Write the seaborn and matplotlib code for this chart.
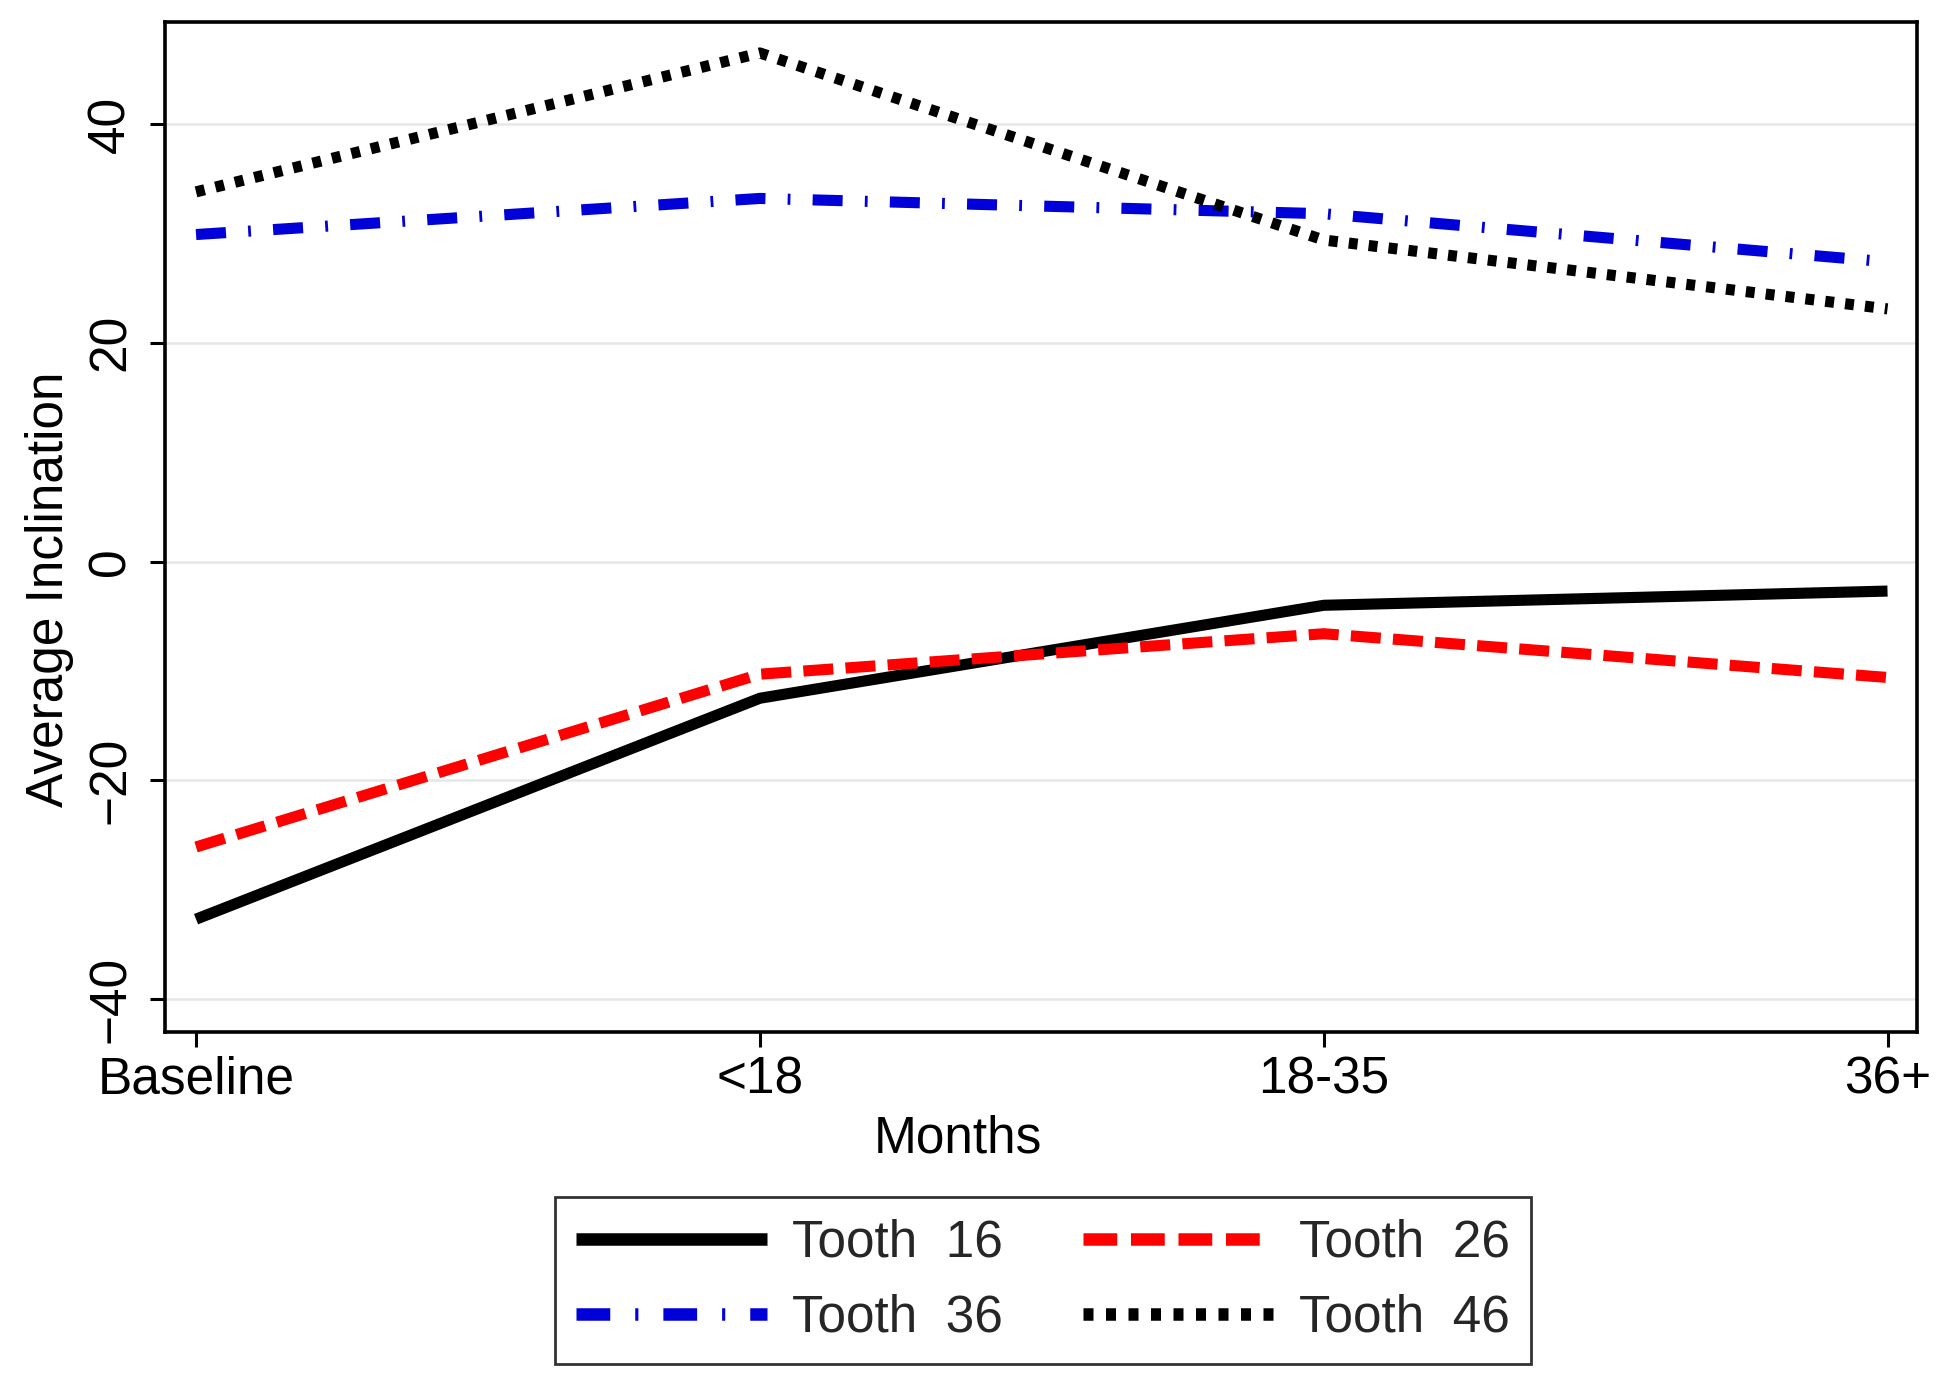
import matplotlib
matplotlib.use("Agg")
import matplotlib.pyplot as plt
import seaborn as sns
import pandas as pd

months = ["Baseline", "<18", "18-35", "36+"]
tooth16 = [-32.7, -12.5, -4.0, -2.7]
tooth26 = [-26.1, -10.3, -6.6, -10.6]
tooth36 = [29.9, 33.2, 31.8, 27.4]
tooth46 = [33.8, 46.5, 29.4, 23.1]
series_names = ["Tooth  16", "Tooth  26", "Tooth  36", "Tooth  46"]
y_ticks = [-40, -20, 0, 20, 40]

sns.set_theme(style="white")
plt.rcParams["font.family"] = ["Liberation Sans", "DejaVu Sans"]
plt.rcParams["lines.dash_capstyle"] = "butt"
plt.rcParams["lines.solid_capstyle"] = "butt"

rows = []
for name, vals in zip(series_names, [tooth16, tooth26, tooth36, tooth46]):
    for i, (m, v) in enumerate(zip(months, vals)):
        rows.append({"pos": i, "month": m, "value": v, "tooth": name})
df = pd.DataFrame(rows)

palette = {"Tooth  16": "#000000", "Tooth  26": "#ff0000",
           "Tooth  36": "#0000d8", "Tooth  46": "#000000"}
dashes = {"Tooth  16": "", "Tooth  26": (2.7, 1.1),
          "Tooth  36": (2.7, 2.0, 0.25, 2.0), "Tooth  46": (0.8, 1.0)}

fig = plt.figure(figsize=(19.46, 13.8), dpi=100)
ax = fig.add_axes([0.0848, 0.2523, 0.9005, 0.7315])

sns.lineplot(data=df, x="pos", y="value", hue="tooth", style="tooth",
             palette=palette, dashes=dashes, linewidth=8, ax=ax,
             hue_order=series_names, style_order=series_names, legend=True)

ax.set_xlim(-0.055, 3.053)
ax.set_ylim(-43, 49.3)
ax.set_xticks(range(len(months)))
ax.set_xticklabels(months)
ax.set_yticks(y_ticks)
ax.set_yticklabels([str(t).replace("-", "\u2212") for t in y_ticks],
                   rotation=90, va="center")
ax.yaxis.grid(True, color="#e6e6e6", linewidth=1.8)
ax.xaxis.grid(False)
ax.set_axisbelow(True)
for s in ax.spines.values():
    s.set_color("black")
    s.set_linewidth(2.6)
ax.tick_params(axis="x", which="major", direction="out", length=11,
               width=2.2, color="black", labelsize=37, labelcolor="black",
               bottom=True, pad=6)
ax.tick_params(axis="y", which="major", direction="out", length=11,
               width=2.2, color="black", labelsize=37, labelcolor="black",
               left=True, pad=10)
ax.set_xlabel("Months", fontsize=37, color="black")
ax.set_ylabel("Average Inclination", fontsize=37, color="black")
ax.xaxis.set_label_coords(0.4525, -0.082)
ax.yaxis.set_label_coords(-0.052, 0.438)

handles, labels = ax.get_legend_handles_labels()
ax.get_legend().remove()
for h in handles:
    h.set_linewidth(9)
order = [0, 2, 1, 3]
leg = fig.legend([handles[i] for i in order], [labels[i] for i in order],
                 loc="center", bbox_to_anchor=(0.536, 0.072), ncol=2,
                 fontsize=37, frameon=True, fancybox=False, handlelength=3.7,
                 labelspacing=0.5, columnspacing=1.55, handletextpad=0.5,
                 borderpad=0.42, borderaxespad=0.0)
leg.get_frame().set_edgecolor("black")
leg.get_frame().set_linewidth(2.0)

fig.savefig("out.png", dpi=100, facecolor="white")
